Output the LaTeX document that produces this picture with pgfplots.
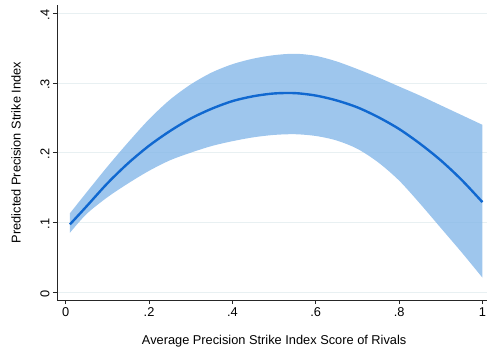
\documentclass[border=0pt]{standalone}
\usepackage{pgfplots}
\pgfplotsset{compat=1.18}
\usepgfplotslibrary{fillbetween}
\usetikzlibrary{calc}
\usepackage{fontspec}
\setmainfont{Liberation Sans}
\definecolor{bandblue}{RGB}{134,184,233}
\definecolor{lineblue}{RGB}{16,104,208}
\definecolor{gridc}{RGB}{232,240,242}
\begin{document}
\begin{tikzpicture}[font=\fontsize{12.8bp}{15bp}\selectfont]
\begin{axis}[
 scale only axis, width=430bp, height=295bp,
 xmin=-0.021, xmax=1.011, ymin=-0.0115, ymax=0.412,
 axis lines=left, axis line style={-, line width=0.8pt, color=black!85},
 xtick={0,0.2,0.4,0.6,0.8,1}, xticklabels={0,.2,.4,.6,.8,1},
 ytick={0,0.1,0.2,0.3,0.4}, yticklabels={0,.1,.2,.3,.4},
 tick align=outside, major tick length=4bp, tick style={black!85, line width=0.7pt},
 yticklabel style={rotate=90, anchor=south, xshift=-1.5bp},
 ymajorgrids, grid style={gridc, line width=0.8pt},
 xlabel={Average Precision Strike Index Score of Rivals},
 ylabel={Predicted Precision Strike Index},
 xlabel style={at={(axis description cs:0.505,-0.139)}, anchor=center},
 ylabel style={at={(axis description cs:-0.0955,0.5)}, anchor=center},
]
\addplot[name path=up, draw=none, smooth] coordinates {
(0.01,0.113) (0.05,0.143) (0.1,0.180) (0.15,0.215) (0.2,0.248) (0.25,0.276)
(0.3,0.298) (0.35,0.315) (0.4,0.327) (0.45,0.335) (0.5,0.340) (0.55,0.342)
(0.6,0.339) (0.65,0.331) (0.7,0.320) (0.75,0.308) (0.8,0.295) (0.85,0.282)
(0.9,0.268) (0.95,0.254) (1.0,0.240)};
\addplot[name path=lo, draw=none, smooth] coordinates {
(0.01,0.085) (0.05,0.112) (0.1,0.136) (0.15,0.156) (0.2,0.174) (0.25,0.189)
(0.3,0.200) (0.35,0.2095) (0.4,0.2165) (0.45,0.2220) (0.5,0.2255) (0.55,0.2265)
(0.6,0.2240) (0.65,0.2175) (0.7,0.2055) (0.75,0.186) (0.8,0.160) (0.85,0.127)
(0.9,0.092) (0.95,0.057) (1.0,0.0206)};
\addplot[bandblue, fill opacity=0.8, draw=none] fill between[of=up and lo];
\addplot[lineblue, line width=2.4pt, smooth] coordinates {
(0.01,0.097) (0.05,0.123) (0.1,0.156) (0.15,0.185) (0.2,0.210) (0.25,0.231)
(0.3,0.249) (0.35,0.263) (0.4,0.274) (0.45,0.281) (0.5,0.285) (0.55,0.2855)
(0.6,0.282) (0.65,0.275) (0.7,0.265) (0.75,0.251) (0.8,0.234) (0.85,0.213)
(0.9,0.189) (0.95,0.161) (1.0,0.129)};
\end{axis}
\pgfresetboundingbox
\path ($(current axis.south west)+(-57bp,-51bp)$) rectangle ($(current axis.north east)+(1bp,5bp)$);
\end{tikzpicture}
\end{document}
